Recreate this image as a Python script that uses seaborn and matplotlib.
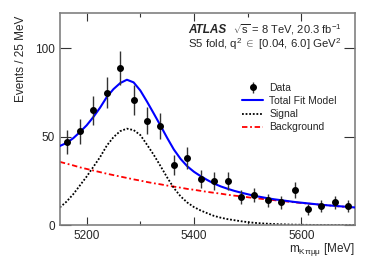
import numpy as np
import pandas as pd
import matplotlib as mpl
mpl.use('Agg')
import matplotlib.pyplot as plt
import seaborn as sns

# data points (bin centres, 25 MeV bins)
mass = [5162.5, 5187.5, 5212.5, 5237.5, 5262.5, 5287.5, 5312.5, 5337.5, 5362.5, 5387.5, 5412.5,
        5437.5, 5462.5, 5487.5, 5512.5, 5537.5, 5562.5, 5587.5, 5612.5, 5637.5, 5662.5, 5687.5]
events = [47, 53, 65, 75, 89, 71, 59, 56, 34, 38, 26,
          25, 25, 16, 17, 14, 13, 20, 9, 11, 13, 11]
errors = [6.9, 7.3, 8.1, 8.7, 9.4, 8.4, 7.7, 7.5, 5.8, 6.2, 5.1,
          5.0, 5.0, 4.0, 4.1, 3.7, 3.6, 4.5, 3.0, 3.3, 3.6, 3.3]

# fit curves, every 12.5 MeV
curve_mass = [5150, 5162.5, 5175, 5187.5, 5200, 5212.5, 5225, 5237.5, 5250, 5262.5, 5275, 5287.5,
              5300, 5312.5, 5325, 5337.5, 5350, 5362.5, 5375, 5387.5, 5400, 5412.5, 5425,
              5437.5, 5450, 5462.5, 5475, 5487.5, 5500, 5512.5, 5525, 5537.5, 5550, 5562.5,
              5575, 5587.5, 5600, 5612.5, 5625, 5637.5, 5650, 5662.5, 5675, 5687.5, 5700]
total_fit = [44.8, 46.5, 49.2, 52.7, 56.5, 61.2, 66.5, 72.5, 77.0, 80.4, 82.3, 80.8,
             76.2, 69.9, 63.2, 56.4, 49.4, 42.8, 37.5, 33.3, 30.2, 27.7, 25.5,
             23.5, 21.9, 20.6, 19.4, 18.4, 17.5, 16.6, 15.9, 15.2, 14.6, 14.1,
             13.6, 13.1, 12.7, 12.3, 11.9, 11.5, 11.2, 10.9, 10.6, 10.3, 10.0]
signal_fit = [10.0, 13.3, 17.5, 22.5, 27.5, 33.0, 38.5, 45.0, 49.8, 53.2, 54.6, 53.8,
              51.0, 45.5, 39.8, 33.5, 27.0, 21.0, 16.3, 12.8, 10.2, 8.3, 6.7,
              5.2, 4.2, 3.4, 2.8, 2.2, 1.7, 1.3, 1.0, 0.8, 0.6, 0.45,
              0.35, 0.25, 0.2, 0.15, 0.1, 0.08, 0.06, 0.05, 0.04, 0.03, 0.02]
background_fit = [35.8, 34.8, 33.8, 32.7, 31.8, 30.9, 30.0, 29.1, 28.3, 27.5, 26.7, 25.9,
                  25.2, 24.4, 23.7, 23.1, 22.4, 21.8, 21.2, 20.5, 20.0, 19.4, 18.8,
                  18.3, 17.8, 17.2, 16.7, 16.3, 15.8, 15.3, 14.9, 14.5, 14.1, 13.7,
                  13.3, 12.9, 12.5, 12.2, 11.8, 11.5, 11.2, 10.8, 10.5, 10.2, 9.9]

sns.set_style('ticks')
plt.rcParams['font.family'] = ['Liberation Sans', 'DejaVu Sans']
plt.rcParams['mathtext.fontset'] = 'custom'
plt.rcParams['mathtext.rm'] = 'Liberation Sans'
plt.rcParams['mathtext.it'] = 'Liberation Sans:italic'

fig = plt.figure(figsize=(3.74, 2.68), dpi=100)
ax = fig.add_axes([0.160, 0.160, 0.789, 0.791])

curves = pd.DataFrame({'mass': curve_mass, 'total': total_fit,
                       'signal': signal_fit, 'background': background_fit})

sns.lineplot(data=curves, x='mass', y='background', ax=ax, color='#ff0000',
             lw=1.3, linestyle=(0, (3, 1.5, 1, 1.5)), label='Background', zorder=2)
sns.lineplot(data=curves, x='mass', y='signal', ax=ax, color='black',
             lw=1.3, linestyle=(0, (1, 1)), label='Signal', zorder=2)
sns.lineplot(data=curves, x='mass', y='total', ax=ax, color='#0000ff',
             lw=1.5, label='Total Fit Model', zorder=3)
data_h = ax.errorbar(mass, events, yerr=errors, fmt='o', color='black', ms=4,
                     ecolor='#333333', elinewidth=1, capsize=0, zorder=4, label='Data')

ax.set_xlim(5150, 5700)
ax.set_ylim(0, 120)
ax.set_xticks([5200, 5400, 5600])
ax.set_xticks([5300, 5500], minor=True)
ax.set_yticks([0, 50, 100])
ax.tick_params(which='both', direction='in', top=True, right=True,
               labelsize=8.5, color='#333333', width=0.8)
ax.tick_params(which='major', length=6)
ax.tick_params(which='minor', length=3)
ax.tick_params(axis='y', which='major', length=8)
for s in ax.spines.values():
    s.set_color('#808080')
    s.set_linewidth(1.2)

ax.set_ylabel('Events / 25 MeV', fontsize=8.5)
ax.yaxis.set_label_coords(-0.112, 0.783)
ax.set_xlabel(r'm$_{\mathregular{K\pi\mu\mu}}$ [MeV]', fontsize=8.5, loc='right')
ax.xaxis.set_label_coords(1.0, -0.075)

ax.text(0.435, 0.905, 'ATLAS', transform=ax.transAxes, fontsize=8.5,
        fontweight='bold', fontstyle='italic')
ax.text(0.955, 0.905, r'$\sqrt{\mathregular{s}}$ = 8 TeV, 20.3 fb$^{\mathregular{-1}}$',
        transform=ax.transAxes, fontsize=8, ha='right')
ax.text(0.955, 0.835, r'S5 fold, q$^{\mathregular{2}}$ $\in$ [0.04, 6.0] GeV$^{\mathregular{2}}$',
        transform=ax.transAxes, fontsize=8.2, ha='right')

handles, labels = ax.get_legend_handles_labels()
order = ['Data', 'Total Fit Model', 'Signal', 'Background']
hd = dict(zip(labels, handles))
ax.legend([hd[k] for k in order], order, loc='upper left', bbox_to_anchor=(0.6, 0.695),
          frameon=False, fontsize=7.5, handlelength=2.0, labelspacing=0.3,
          handletextpad=0.6, borderpad=0)

fig.savefig('out.png', dpi=100)
